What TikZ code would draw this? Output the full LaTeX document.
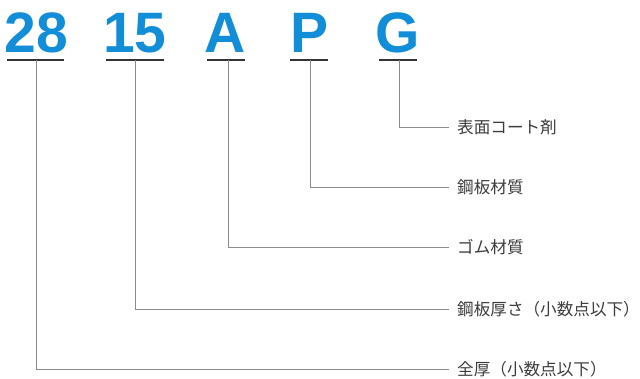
\documentclass[tikz,border=0pt]{standalone}
\usepackage{fontspec}
\setmainfont{Liberation Sans}
\newfontfamily\cjk{Noto Sans CJK JP}
\definecolor{codeblue}{HTML}{128DD8}
\definecolor{lblgray}{HTML}{3C3C3C}
\definecolor{linegray}{HTML}{8C8C8C}
\definecolor{ulgray}{HTML}{333333}
\begin{document}
\begin{tikzpicture}[x=1pt,y=-1pt,
  codetxt/.style={font=\fontsize{57}{57}\selectfont\bfseries, text=codeblue, inner sep=0pt, anchor=base},
  lbl/.style={font=\cjk\fontsize{16.6}{16.6}\selectfont, text=lblgray, anchor=west, inner xsep=8pt, inner ysep=0pt},
  uline/.style={draw=ulgray, line width=2.2pt},
  conn/.style={draw=linegray, line width=0.9pt}
]
\useasboundingbox (0,0) rectangle (640,379);
% codes
\node[codetxt] (c28) at (36.5,52.5) {28};
\node[codetxt] (c15) at (135,52.5) {15};
\node[codetxt] (cA) at (225.5,52.5) {A};
\node[codetxt] (cP) at (309.5,52.5) {P};
\node[codetxt] (cG) at (397.5,52.5) {G};
% underline midpoints
\coordinate (u28) at (36,60);
\coordinate (u15) at (135,60);
\coordinate (uA) at (228,60);
\coordinate (uP) at (310,60);
\coordinate (uG) at (399,60);
\draw[uline] (7,60) -- (64,60);
\draw[uline] (106,60) -- (164,60);
\draw[uline] (207,60) -- (245,60);
\draw[uline] (290,60) -- (328,60);
\draw[uline] (379,60) -- (417,60);
% labels
\node[lbl] (lG) at (449,127) {表面コート剤};
\node[lbl] (lP) at (449,187) {鋼板材質};
\node[lbl] (lA) at (449,247) {ゴム材質};
\node[lbl] (l15) at (449,309) {鋼板厚さ（小数点以下）};
\node[lbl] (l28) at (449,369) {全厚（小数点以下）};
% connectors
\draw[conn] (uG) |- (lG.west);
\draw[conn] (uP) |- (lP.west);
\draw[conn] (uA) |- (lA.west);
\draw[conn] (u15) |- (l15.west);
\draw[conn] (u28) |- (l28.west);
\end{tikzpicture}
\end{document}
